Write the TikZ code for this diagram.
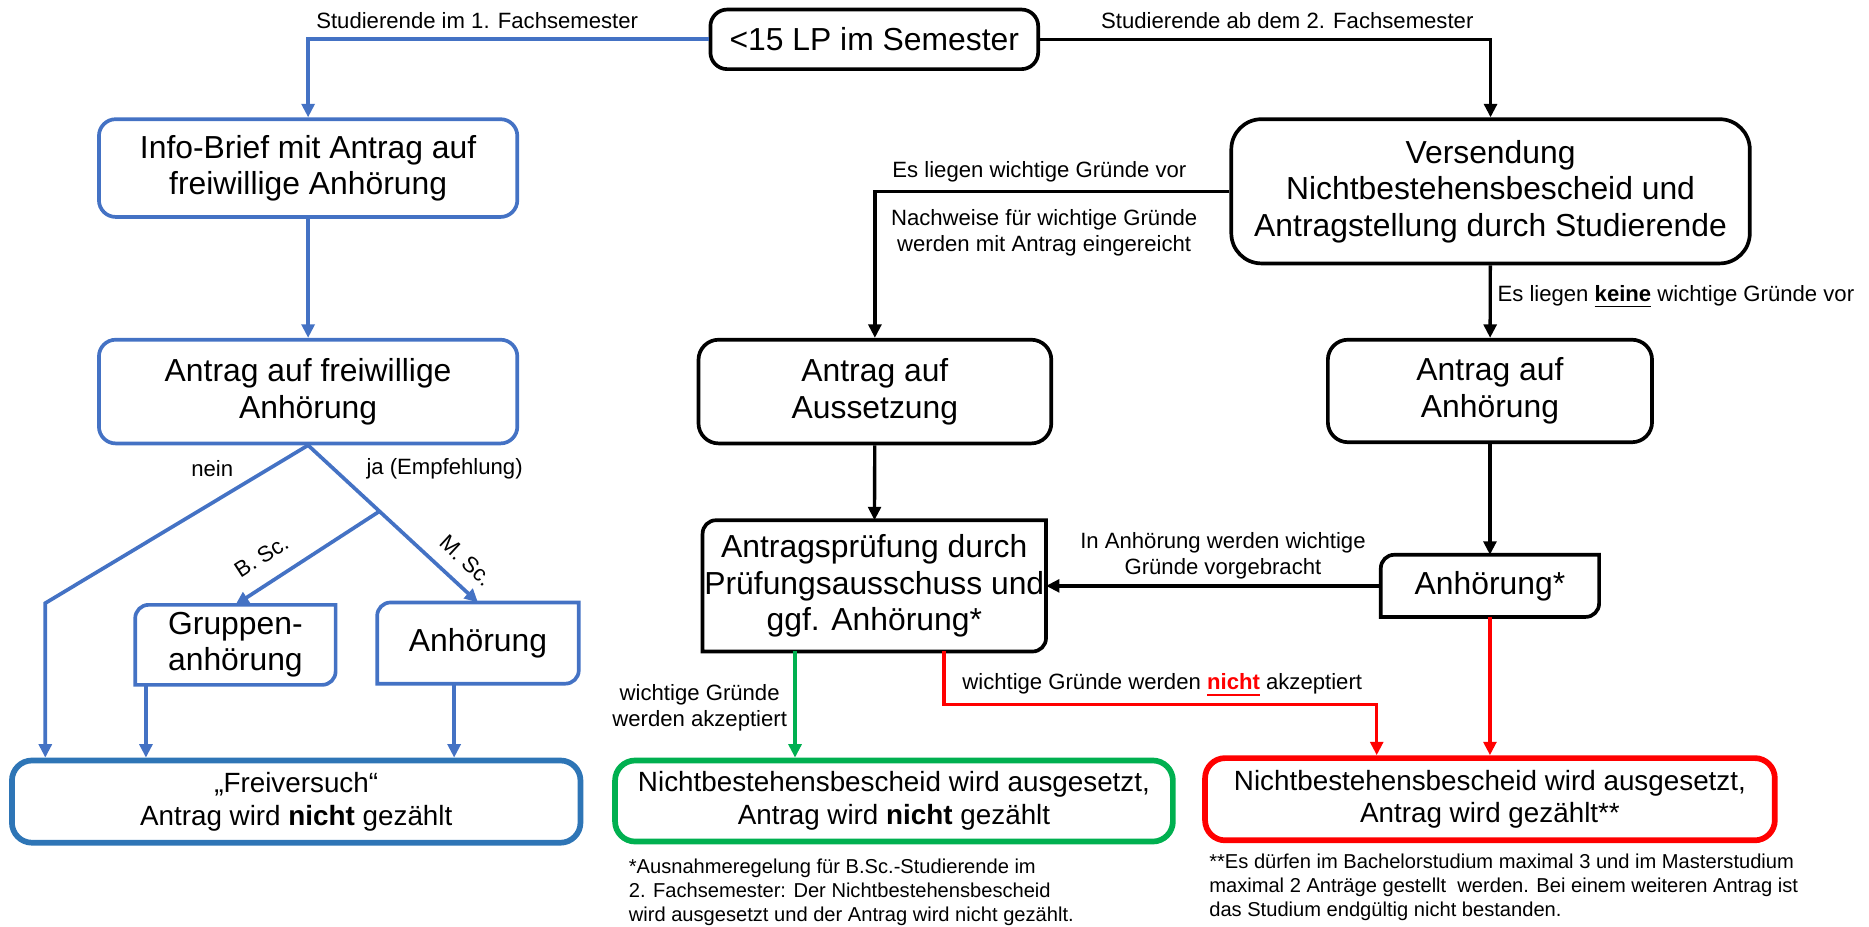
\documentclass[tikz,border=0pt]{standalone}
\usepackage{fontspec}
\setmainfont{Liberation Sans}
\usepackage{xcolor}
\usepackage{tikz}
\usetikzlibrary{calc}
\usetikzlibrary{arrows.meta}
\definecolor{blueline}{RGB}{68,114,196}
\definecolor{bluedark}{RGB}{46,117,182}
\definecolor{greenbox}{RGB}{0,176,80}
\newdimen\pxu \pxu=0.0125cm
\newcommand{\boxfont}{\fontsize{9.5}{10.9}\selectfont}
\newcommand{\resfont}{\fontsize{8.3}{9.7}\selectfont}
\newcommand{\lblfont}{\fontsize{6.6}{7.8}\selectfont}
\newcommand{\notefont}{\fontsize{6.0}{7.1}\selectfont}
% frame with rounded top-left and bottom-right corners
\newcommand{\diagframe}[2]{%
  \draw[#2, line width=1.1pt] (#1.south west) -- ([yshift=-4pt]#1.north west)
    arc[start angle=180, end angle=90, radius=4pt] -- (#1.north east)
    -- ([yshift=4pt]#1.south east) arc[start angle=0, end angle=-90, radius=4pt] -- cycle;}
\tikzstyle{bline}=[blueline, line width=1.1pt]
\tikzstyle{kline}=[black, line width=1pt]
\tikzstyle{gline}=[greenbox, line width=1pt]
\tikzstyle{rline}=[red, line width=1pt]
\tikzstyle{kbox}=[draw=black, line width=1.1pt, rounded corners=5pt, align=center, inner sep=0pt, font=\boxfont]
\tikzstyle{ubox}=[kbox, draw=blueline]
\tikzstyle{dbox}=[align=center, inner sep=0pt, font=\boxfont]
\tikzstyle{resbox}=[draw, line width=1.7pt, rounded corners=6pt, align=center, inner sep=0pt, font=\resfont]
\tikzstyle{lbl}=[font=\lblfont, text=black, inner sep=1pt, align=center]
\tikzstyle{note}=[font=\notefont, align=left, inner sep=0pt, anchor=north west]
\tikzset{>={Triangle[length=4pt,width=3.8pt]}}

\begin{document}
\begin{tikzpicture}[x=0.0125cm, y=-0.0125cm]
    \useasboundingbox (0,0) rectangle (1568,777);

    % start
    \node[kbox, minimum width=275\pxu, minimum height=50\pxu] (lp) at (733.5,33) {<15 LP im Semester};

    % 1. first semester (blue)
    \node[ubox, minimum width=351\pxu, minimum height=82\pxu] (info) at (258.5,141)
      {Info-Brief mit Antrag auf\\freiwillige Anhörung};
    \node[ubox, minimum width=351\pxu, minimum height=87\pxu] (freiw) at (258.5,328.5)
      {Antrag auf freiwillige\\Anhörung};
    \node[dbox, minimum width=167\pxu, minimum height=66\pxu] (gruppen) at (197.5,541) {Gruppen-\\anhörung};
    \diagframe{gruppen}{blueline}
    \node[dbox, minimum width=168\pxu, minimum height=67\pxu] (anhL) at (401,539.5) {Anhörung};
    \diagframe{anhL}{blueline}
    \node[resbox, draw=bluedark, minimum width=477\pxu, minimum height=69\pxu] (frei) at (248.5,672.5)
      {„Freiversuch“\\Antrag wird \textbf{nicht} gezählt};

    % 2. from second semester (black)
    \node[kbox, rounded corners=9pt, minimum width=435\pxu, minimum height=121\pxu] (versend) at (1250.5,160.5)
      {Versendung\\Nichtbestehensbescheid und\\Antragstellung durch Studierende};
    \node[kbox, rounded corners=6pt, minimum width=296\pxu, minimum height=87\pxu] (aussetz) at (734,328.5)
      {Antrag auf\\Aussetzung};
    \node[kbox, rounded corners=6pt, minimum width=272\pxu, minimum height=86\pxu] (antrA) at (1250,328)
      {Antrag auf\\Anhörung};
    \node[dbox, minimum width=287\pxu, minimum height=109\pxu] (pruef) at (733.5,491.5)
      {Antragsprüfung durch\\Prüfungsausschuss und\\ggf. Anhörung*};
    \diagframe{pruef}{black}
    \node[dbox, minimum width=182\pxu, minimum height=51\pxu] (anhS) at (1250,491.5) {Anhörung*};
    \diagframe{anhS}{black}

    % 3. results
    \node[resbox, draw=greenbox, minimum width=468\pxu, minimum height=68\pxu] (green) at (750,672)
      {Nichtbestehensbescheid wird ausgesetzt,\\Antrag wird \textbf{nicht} gezählt};
    \node[resbox, draw=red, minimum width=478\pxu, minimum height=69\pxu] (red) at (1250,670.5)
      {Nichtbestehensbescheid wird ausgesetzt,\\Antrag wird gezählt**};

    % connectors, blue side
    \draw[bline,->] (lp.west) -| (info.north);
    \node[lbl, anchor=west] (lblA) at (262,17) {Studierende im 1. Fachsemester};
    \draw[bline,->] (info) -- (freiw);
    \coordinate (neinK) at (38,506);
    \draw[bline,->] (freiw.south) -- (neinK) -- (neinK |- frei.north);
    \node[lbl] (nein) at (178,393) {nein};
    \coordinate (jaK) at ($(freiw.south)!0.42!(anhL.north)$);
    \draw[bline,->] (freiw.south) -- node[lbl, pos=0.84, sloped, above=3pt] (msc) {M. Sc.} (anhL.north);
    \node[lbl] (ja) at (373,393) {ja (Empfehlung)};
    \draw[bline,<-] (gruppen.north) -- node[lbl, pos=0.28, sloped, above=4pt] (bsc) {B. Sc.} (jaK);
    \coordinate (gOut) at ($(gruppen.south west)+(9,0)$);
    \coordinate (aOut) at ($(anhL.south)+(-20,0)$);
    \draw[bline,->] (gOut) -- (gOut |- frei.north);
    \draw[bline,->] (aOut) -- (aOut |- frei.north);

    % connectors, black side
    \draw[kline,->] (lp.east) -| (versend.north);
    \node[lbl] (lblB) at (1080,17) {Studierende ab dem 2. Fachsemester};
    \draw[kline,->] (versend.west) -| (aussetz.north);
    \node[lbl] (lblC) at (872,144) {Es liegen wichtige Gründe vor};
    \node[lbl] (lblD) at (876,195) {Nachweise für wichtige Gründe\\werden mit Antrag eingereicht};
    \draw[kline,->] (versend) -- (antrA);
    \node[lbl, anchor=west] (lblE) at (1253,249) {Es liegen \underline{\textbf{keine}} wichtige Gründe vor};
    \draw[kline,->] (aussetz) -- (pruef);
    \draw[kline,->] (antrA) -- (anhS);
    \draw[kline,->] (anhS) -- (pruef);
    \node[lbl] (lblF) at (1026,466) {In Anhörung werden wichtige\\Gründe vorgebracht};

    % green and red results
    \coordinate (gOut2) at ($(pruef.south)+(-66.5,0)$);
    \draw[gline,->] (gOut2) -- (gOut2 |- green.north);
    \node[lbl] (lblG) at (587,593.5) {wichtige Gründe\\werden akzeptiert};
    \coordinate (rOut) at ($(pruef.south)+(58.5,0)$);
    \coordinate (rK) at (1155,591);
    \draw[rline,->] (rOut) |- (rK) -- (rK |- red.north);
    \node[lbl, anchor=west] (lblH) at (804,575)
      {wichtige Gründe werden \textcolor{red}{\underline{\textbf{nicht}}} akzeptiert};
    \draw[rline,->] (anhS) -- (red);

    % footnotes
    \node[note] (noteA) at (527,720) {*Ausnahmeregelung für B.Sc.-Studierende im\\
      2. Fachsemester: Der Nichtbestehensbescheid\\wird ausgesetzt und der Antrag wird nicht gezählt.};
    \node[note] (noteB) at (1014,716) {**Es dürfen im Bachelorstudium maximal 3 und im Masterstudium\\
      maximal 2 Anträge gestellt\ \ werden. Bei einem weiteren Antrag ist\\das Studium endgültig nicht bestanden.};
\end{tikzpicture}
\end{document}
